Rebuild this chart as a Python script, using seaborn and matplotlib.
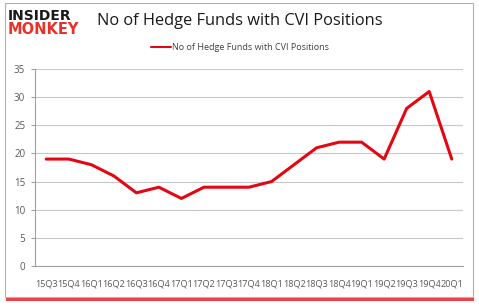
import matplotlib
matplotlib.use("Agg")
import matplotlib.pyplot as plt
from matplotlib.patches import Rectangle
import seaborn as sns
import pandas as pd
import numpy as np

quarters = ["15Q3", "15Q4", "16Q1", "16Q2", "16Q3", "16Q4", "17Q1", "17Q2", "17Q3", "17Q4",
            "18Q1", "18Q2", "18Q3", "18Q4", "19Q1", "19Q2", "19Q3", "19Q4", "20Q1"]
funds = [19, 19, 18, 16, 13, 14, 12, 14, 14, 14, 15, 18, 21, 22, 22, 19, 28, 31, 19]
yticks = [0, 5, 10, 15, 20, 25, 30, 35]
series_name = "No of Hedge Funds with CVI Positions"

df = pd.DataFrame({"pos": np.arange(len(quarters)), "funds": funds, "series": series_name})

sns.set_theme(style="white")
plt.rcParams['font.family'] = ['Open Sans', 'DejaVu Sans']

fig = plt.figure(figsize=(4.79, 3.07), dpi=100)
W, H = 479, 307

# outer frame with red shadow
fig.patches.append(Rectangle((6 / W, 1 - 301 / H), 468 / W, 297 / H, transform=fig.transFigure,
                             facecolor="#e8202a", edgecolor="none", alpha=0.85, zorder=0))
fig.patches.append(Rectangle((5 / W, 1 - 297 / H), 468 / W, 294 / H, transform=fig.transFigure,
                             facecolor="white", edgecolor="#d9a0a0", linewidth=0.8, zorder=1))

ax = fig.add_axes([35 / W, 1 - 266 / H, 428 / W, (266 - 69) / H])
ax.set_zorder(2)
ax.patch.set_alpha(0)
sns.lineplot(data=df, x="pos", y="funds", color="#e30613", linewidth=2.2, ax=ax,
             label=series_name, legend=False)

ax.set_xlim(-0.5, len(quarters) - 0.5)
ax.set_ylim(0, 35)
ax.set_yticks(yticks)
ax.set_yticklabels([str(v) for v in yticks], fontsize=7, color="#595959")
ax.set_xticks(np.arange(len(quarters)))
ax.set_xticklabels(quarters, fontsize=6.6, color="#595959")
ax.set_xticks(np.arange(len(quarters) + 1) - 0.5, minor=True)
ax.tick_params(axis="x", which="major", length=0, pad=10)
ax.tick_params(axis="x", which="minor", length=3, color="#a0a0a0", width=0.8, direction="out")
ax.tick_params(axis="y", length=3, color="#a0a0a0", width=0.8, pad=4, left=True)
ax.yaxis.grid(True, color="#c8c8c8", linewidth=0.8)
ax.set_axisbelow(True)
for s in ["top", "right"]:
    ax.spines[s].set_visible(False)
ax.spines["left"].set_color("#a0a0a0")
ax.spines["bottom"].set_color("#a0a0a0")
ax.spines["left"].set_linewidth(0.8)
ax.spines["bottom"].set_linewidth(0.8)
ax.set_xlabel("")
ax.set_ylabel("")

# logo
fig.text(8 / W, 1 - 16 / H, "INSIDER", fontsize=10, fontweight="heavy", color="#1a1a1a",
         va="center", ha="left", family=["DejaVu Sans"], zorder=3)
fig.text(8 / W, 1 - 30 / H, "MONKEY", fontsize=10.5, fontweight="heavy", color="#e8312a",
         va="center", ha="left", family=["DejaVu Sans"], zorder=3)

# title
fig.text(97 / W, 1 - 21 / H, series_name, fontsize=11.8, color="#1a1a1a", va="center",
         ha="left", zorder=3)

# legend
leg = ax.legend(loc="center", bbox_to_anchor=(240 / W, 1 - 48 / H), bbox_transform=fig.transFigure,
                frameon=False, fontsize=6.5, handlelength=2.2, handletextpad=0.2)
for t in leg.get_texts():
    t.set_color("#404040")
for l in leg.get_lines():
    l.set_linewidth(1.5)

fig.savefig("out.png", dpi=100)
